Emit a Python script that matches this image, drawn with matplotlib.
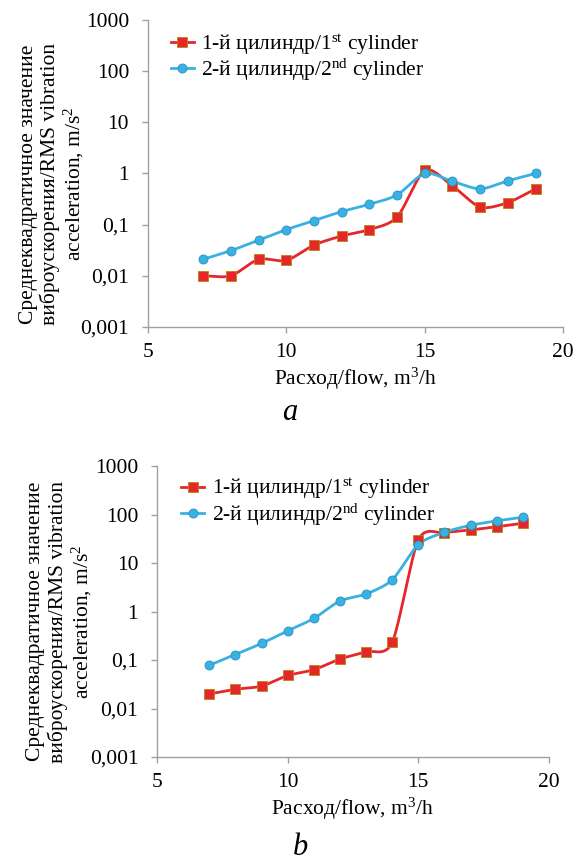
import numpy as np
import matplotlib
matplotlib.use("Agg")
import matplotlib.pyplot as plt

plt.rcParams['font.family'] = ['Liberation Serif', 'DejaVu Serif']
plt.rcParams['mathtext.fontset'] = 'custom'
plt.rcParams['mathtext.rm'] = 'Liberation Serif'
plt.rcParams['mathtext.it'] = 'Liberation Serif:italic'

flow = [7, 8, 9, 10, 11, 12, 13, 14, 15, 16, 17, 18, 19]

# panel a
a_cyl1 = [0.01, 0.01, 0.021, 0.02, 0.04, 0.06, 0.08, 0.14, 1.15, 0.57, 0.22, 0.27, 0.5]
a_cyl2 = [0.021, 0.031, 0.05, 0.08, 0.12, 0.18, 0.25, 0.38, 1.0, 0.7, 0.5, 0.72, 1.0]

# panel b
b_cyl1 = [0.02, 0.025, 0.029, 0.048, 0.063, 0.105, 0.148, 0.23, 30, 42, 48, 56, 66]
b_cyl2 = [0.078, 0.13, 0.22, 0.4, 0.72, 1.65, 2.3, 4.5, 24, 43, 60, 74, 88]

labels = ['1-й цилиндр/1$^{\\rm st}$ cylinder', '2-й цилиндр/2$^{\\rm nd}$ cylinder']
yticks = [0.001, 0.01, 0.1, 1, 10, 100, 1000]
yticklabels = ['0,001', '0,01', '0,1', '1', '10', '100', '1000']

RED = '#e5262b'
BLUE = '#38b2e3'
FS = 15.5


def smooth(x, y, n=20):
    # catmull-rom through the points in log space, like excel's smoothed line
    x = np.asarray(x, float)
    ly = np.log10(y)
    px = np.concatenate([[2 * x[0] - x[1]], x, [2 * x[-1] - x[-2]]])
    py = np.concatenate([[2 * ly[0] - ly[1]], ly, [2 * ly[-1] - ly[-2]]])
    xs, ys = [], []
    t = np.linspace(0, 1, n)
    for i in range(1, len(px) - 2):
        for arr, out in ((px, xs), (py, ys)):
            p0, p1, p2, p3 = arr[i - 1], arr[i], arr[i + 1], arr[i + 2]
            m1 = (p2 - p0) / 2 * 0.8
            m2 = (p3 - p1) / 2 * 0.8
            h00 = 2 * t**3 - 3 * t**2 + 1
            h10 = t**3 - 2 * t**2 + t
            h01 = -2 * t**3 + 3 * t**2
            h11 = t**3 - t**2
            out.extend(h00 * p1 + h10 * m1 + h01 * p2 + h11 * m2)
    return np.array(xs), 10 ** np.array(ys)


def panel(ax, c1, c2, leg_pos):
    sx, sy = smooth(flow, c1)
    ax.plot(sx, sy, color=RED, lw=2, zorder=2)
    ax.plot(flow, c1, ls='none', marker='s', ms=6.5, color=RED, mec='#b8860b', mew=0.6, zorder=3)
    sx, sy = smooth(flow, c2)
    ax.plot(sx, sy, color=BLUE, lw=2, zorder=2)
    ax.plot(flow, c2, ls='none', marker='o', ms=6.5, color=BLUE, mec='#2a8fc0', mew=0.6, zorder=3)
    # legend handles
    h1, = ax.plot([], [], color=RED, lw=2, marker='s', ms=6.5, mec='#b8860b', mew=0.6)
    h2, = ax.plot([], [], color=BLUE, lw=2, marker='o', ms=6.5, mec='#2a8fc0', mew=0.6)
    ax.legend([h1, h2], labels, loc='upper left', bbox_to_anchor=leg_pos, frameon=False,
              fontsize=FS, handlelength=1.05, handletextpad=0.35, labelspacing=0.0, borderpad=0)

    ax.set_yscale('log')
    ax.set_ylim(0.001, 1000)
    ax.set_xlim(5, 20)
    ax.set_xticks([5, 10, 15, 20])
    ax.set_yticks(yticks)
    ax.set_yticklabels(yticklabels)
    ax.minorticks_off()
    for s in ['top', 'right']:
        ax.spines[s].set_visible(False)
    for s in ['left', 'bottom']:
        ax.spines[s].set_color('#a0a0a0')
        ax.spines[s].set_linewidth(1)
    ax.tick_params(axis='both', labelsize=FS, color='#a0a0a0', length=4.5, width=1)
    ax.tick_params(axis='x', pad=7)
    ax.tick_params(axis='y', pad=9)
    ax.set_xlabel('Расход/flow, m$^3$/h', fontsize=FS, labelpad=3)
    ax.set_ylabel('Среднеквадратичное значение\nвиброускорения/RMS vibration\nacceleration, m/s$^2$',
                  fontsize=FS, linespacing=1.12)


fig = plt.figure(figsize=(5.73, 8.64), dpi=100)
ax1 = fig.add_axes([0.258, 0.6215, 0.725, 0.3555])
ax2 = fig.add_axes([0.274, 0.1238, 0.684, 0.3368])

panel(ax1, a_cyl1, a_cyl2, (0.03, 0.995))
panel(ax2, b_cyl1, b_cyl2, (0.035, 1.0))
ax1.yaxis.set_label_coords(-0.148, 0.465)
ax2.yaxis.set_label_coords(-0.161, 0.465)

fig.text(0.506, 0.522, 'a', fontsize=22, style='italic', ha='center', va='center')
fig.text(0.524, 0.019, 'b', fontsize=22, style='italic', ha='center', va='center')

fig.savefig('out.png', dpi=100)
